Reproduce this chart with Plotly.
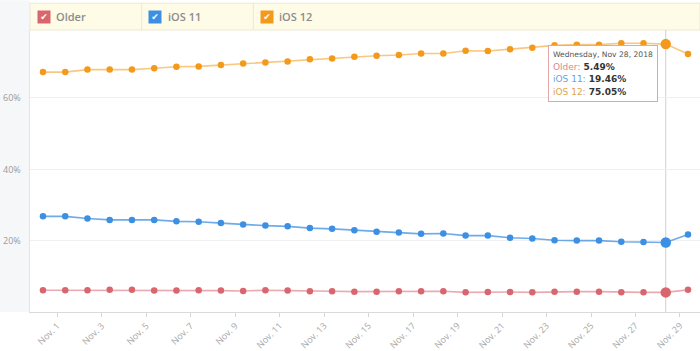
import plotly.graph_objects as go
from datetime import datetime, timedelta

# ---- data ----
dates = ["2018-10-31"] + [f"2018-11-{d:02d}" for d in range(1, 30)]
older = [6.1, 6.1, 6.1, 6.2, 6.2, 6.0, 6.0, 6.1, 6.0, 5.9, 6.1, 6.0, 5.8, 5.8,
         5.7, 5.7, 5.8, 5.8, 5.8, 5.5, 5.6, 5.6, 5.5, 5.7, 5.7, 5.7, 5.5, 5.5, 5.49, 6.2]
ios11 = [26.8, 26.8, 26.2, 25.8, 25.8, 25.8, 25.4, 25.3, 24.9, 24.5, 24.2, 24.0, 23.5, 23.3,
         22.9, 22.5, 22.3, 21.9, 22.0, 21.4, 21.4, 20.8, 20.6, 20.1, 20.0, 20.0, 19.7, 19.6, 19.46, 21.7]
ios12 = [67.2, 67.2, 67.9, 67.9, 67.9, 68.3, 68.7, 68.8, 69.2, 69.6, 69.9, 70.2, 70.8, 71.0,
         71.5, 71.8, 72.0, 72.4, 72.4, 73.2, 73.1, 73.6, 74.0, 74.7, 74.9, 74.9, 75.3, 75.3, 75.05, 72.3]
series_names = ["Older", "iOS 11", "iOS 12"]
tick_days = list(range(1, 30, 2))
tick_labels = [f"Nov. {d}" for d in tick_days]
y_ticks = [20, 40, 60]
y_tick_labels = ["20%", "40%", "60%"]
hover_index = 28
hover_title = "Wednesday, Nov 28, 2018"

# ---- style ----
marker_colors = ["#d9666f", "#3d8fe3", "#f39a1c"]
line_colors = ["rgba(217,102,111,0.55)", "rgba(61,143,227,0.75)", "rgba(243,154,28,0.55)"]
label_colors = ["#d9868d", "#5fa3e6", "#e3a447"]
W, H = 700, 351
L, R, T, B = 30, 0, 30, 37
PW, PH = W - L - R, H - T - B

fig = go.Figure()
for name, vals, mc, lc in zip(series_names, [older, ios11, ios12], marker_colors, line_colors):
    fig.add_trace(go.Scatter(
        x=dates, y=vals, mode="lines+markers", name=name,
        line=dict(color=lc, width=1.6),
        marker=dict(color=mc, size=6.5),
        hoverinfo="skip"))
    fig.add_trace(go.Scatter(
        x=[dates[hover_index]], y=[vals[hover_index]], mode="markers",
        marker=dict(color=mc, size=10.5), hoverinfo="skip", showlegend=False))

tickvals = [(datetime(2018, 11, d) - timedelta(hours=8, minutes=40)).strftime("%Y-%m-%d %H:%M")
            for d in tick_days]

def px_x(p):
    return (p - L) / PW

def px_y(p):
    return (H - B - p) / PH

shapes = [
    # left gray strip
    dict(type="rect", xref="paper", yref="paper", x0=-L / PW, x1=0, y0=0, y1=px_y(0),
         fillcolor="#f6f7f9", line=dict(width=0), layer="below"),
    # legend band
    dict(type="rect", xref="paper", yref="paper", x0=0, x1=1, y0=px_y(30), y1=px_y(3),
         fillcolor="#fefbe7", line=dict(color="#ebe8d6", width=1), layer="below"),
    dict(type="line", xref="paper", yref="paper", x0=1 / 6, x1=1 / 6, y0=px_y(30), y1=px_y(3),
         line=dict(color="#ebe8d6", width=1)),
    dict(type="line", xref="paper", yref="paper", x0=2 / 6, x1=2 / 6, y0=px_y(30), y1=px_y(3),
         line=dict(color="#ebe8d6", width=1)),
    # hover line
    dict(type="line", xref="x", yref="paper", x0=dates[hover_index], x1=dates[hover_index],
         y0=0, y1=1, line=dict(color="#cfcfcf", width=1), layer="below"),
]

annotations = []
for i, (name, mc) in enumerate(zip(series_names, marker_colors)):
    x0 = i / 6
    annotations.append(dict(
        xref="paper", yref="paper", x=x0 + px_x(43.5), y=px_y(16.7),
        xanchor="center", yanchor="middle", showarrow=False,
        text="✔", font=dict(color="white", size=9, family="DejaVu Sans"),
        bgcolor=mc, width=12, height=12, borderpad=0))
    annotations.append(dict(
        xref="paper", yref="paper", x=x0 + px_x(54), y=px_y(16.7),
        xanchor="left", yanchor="middle", showarrow=False,
        text=name, font=dict(color="#8c8c8c", size=11, family="Open Sans", weight=600)))

tip_lines = [f"<span style='font-size:7.6px;color:#555'>{hover_title}</span>"]
for name, vals, lcol in zip(series_names, [older, ios11, ios12], label_colors):
    tip_lines.append(
        f"<span style='color:{lcol};font-size:9px'>{name}:</span> "
        f"<b style='color:#333;font-size:9px'>{vals[hover_index]:.2f}%</b>")
annotations.append(dict(
    xref="x", yref="y", x=dates[hover_index], y=ios12[hover_index],
    xanchor="right", yanchor="top", xshift=-8, yshift=-1, showarrow=False,
    align="left", text="<br>".join(tip_lines),
    font=dict(family="DejaVu Sans", size=9.8, color="#333"),
    bgcolor="white", bordercolor="#e3a6a6", borderwidth=1, borderpad=4))

# y tick labels as annotations placed in the left strip
for v, t in zip(y_ticks, y_tick_labels):
    annotations.append(dict(
        xref="paper", yref="y", x=px_x(23), y=v, xanchor="right", yanchor="middle",
        showarrow=False, text=t, font=dict(size=9, color="#9a9a9a", family="Open Sans")))

fig.update_layout(
    width=W, height=H,
    margin=dict(l=L, r=R, t=T, b=B),
    paper_bgcolor="white", plot_bgcolor="white",
    showlegend=False, hovermode=False,
    shapes=shapes, annotations=annotations,
    xaxis=dict(
        type="date", range=["2018-10-30 10:00", "2018-11-29 12:57"],
        tickvals=tickvals, ticktext=tick_labels, tickangle=-45,
        tickfont=dict(size=9, color="#a6a6a6", family="Open Sans"),
        showgrid=False, showline=True, linecolor="#dadada", linewidth=1,
        ticks="outside", ticklen=4, tickcolor="#d6d6d6", zeroline=False),
    yaxis=dict(
        range=[0, 79], tickvals=y_ticks, showticklabels=False,
        showgrid=True, gridcolor="#f0f0f0", gridwidth=1,
        showline=True, linecolor="#e4e4e4", zeroline=False, ticks=""),
)

fig.write_html("out.html")
